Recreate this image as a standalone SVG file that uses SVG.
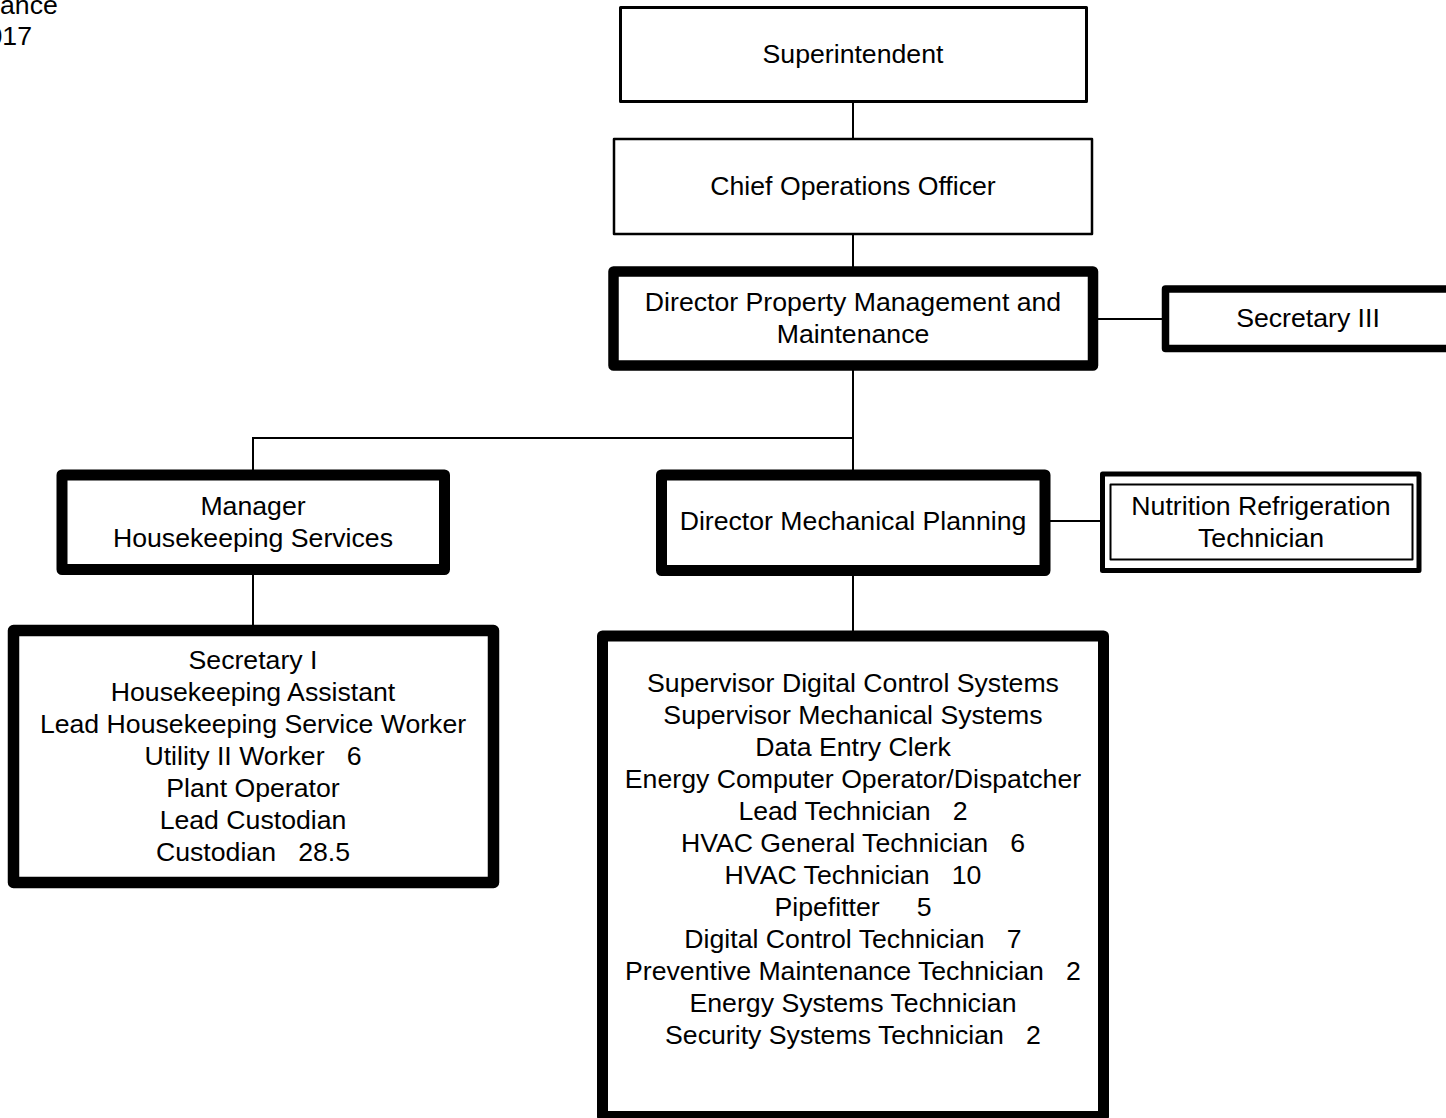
<svg xmlns="http://www.w3.org/2000/svg" width="1446" height="1118" viewBox="0 0 1446 1118">
  <style>
    text { font-family: "Liberation Sans", Arial, sans-serif; font-size: 26.67px; fill: #000; white-space: pre; }
    .c { text-anchor: middle; }
    .box { fill: #fff; stroke: #000; stroke-linejoin: round; }
    .thin { stroke-width: 2.5; }
    .thick { stroke-width: 11; }
    .conn { stroke: #000; stroke-width: 2; fill: none; }
  </style>
  <rect x="0" y="0" width="1446" height="1118" fill="#fff"/>

  <!-- page title, running off the left edge -->
  <g id="title">
    <text x="0" y="14">ance</text>
    <text x="32" y="45" text-anchor="end">017</text>
  </g>

  <!-- reporting lines -->
  <g id="connectors">
    <line class="conn" x1="853" y1="101" x2="853" y2="139"/>
    <line class="conn" x1="853" y1="234" x2="853" y2="267"/>
    <line class="conn" x1="853" y1="370" x2="853" y2="470"/>
    <line class="conn" x1="252" y1="438" x2="854" y2="438"/>
    <line class="conn" x1="253" y1="437" x2="253" y2="470"/>
    <line class="conn" x1="1097" y1="319" x2="1163" y2="319"/>
    <line class="conn" x1="1049" y1="521" x2="1101" y2="521"/>
    <line class="conn" x1="253" y1="574" x2="253" y2="626"/>
    <line class="conn" x1="853" y1="575" x2="853" y2="631"/>
  </g>

  <g id="superintendent">
    <rect class="box" x="620.5" y="7.5" width="466" height="94" stroke-width="3"/>
    <text class="c" x="853" y="63">Superintendent</text>
  </g>

  <g id="chief-operations-officer">
    <rect class="box thin" x="614" y="139" width="478" height="95"/>
    <text class="c" x="853" y="195">Chief Operations Officer</text>
  </g>

  <g id="director-property-management">
    <rect class="box" x="613.5" y="271.5" width="479.5" height="94" stroke-width="10.5"/>
    <text class="c" x="853" y="311">Director Property Management and</text>
    <text class="c" x="853" y="343">Maintenance</text>
  </g>

  <g id="secretary-iii">
    <rect class="box" x="1165.5" y="289" width="300" height="59.5" stroke-width="7.5"/>
    <text class="c" x="1308" y="327">Secretary III</text>
  </g>

  <g id="manager-housekeeping">
    <rect class="box thick" x="62" y="475" width="382.5" height="94.5"/>
    <text class="c" x="253" y="515">Manager</text>
    <text class="c" x="253" y="547">Housekeeping Services</text>
  </g>

  <g id="director-mechanical-planning">
    <rect class="box thick" x="661.5" y="475" width="383.5" height="95.5"/>
    <text class="c" x="853" y="530">Director Mechanical Planning</text>
  </g>

  <g id="nutrition-refrigeration-technician">
    <rect class="box" x="1102.5" y="474" width="316.5" height="96.5" stroke-width="5"/>
    <rect class="box" x="1110.5" y="484.5" width="302" height="75" stroke-width="2"/>
    <text class="c" x="1261" y="515">Nutrition Refrigeration</text>
    <text class="c" x="1261" y="547">Technician</text>
  </g>

  <g id="housekeeping-staff">
    <rect class="box" x="13.5" y="630.5" width="480" height="252" stroke-width="11.5"/>
    <text class="c" x="253" y="669">Secretary I</text>
    <text class="c" x="253" y="701">Housekeeping Assistant</text>
    <text class="c" x="253" y="733">Lead Housekeeping Service Worker</text>
    <text class="c" x="253" y="765">Utility II Worker   6</text>
    <text class="c" x="253" y="797">Plant Operator</text>
    <text class="c" x="253" y="829">Lead Custodian</text>
    <text class="c" x="253" y="861">Custodian   28.5</text>
  </g>

  <g id="mechanical-staff">
    <rect class="box thick" x="602.5" y="636" width="501" height="480.5"/>
    <text class="c" x="853" y="692">Supervisor Digital Control Systems</text>
    <text class="c" x="853" y="724">Supervisor Mechanical Systems</text>
    <text class="c" x="853" y="756">Data Entry Clerk</text>
    <text class="c" x="853" y="788">Energy Computer Operator/Dispatcher</text>
    <text class="c" x="853" y="820">Lead Technician   2</text>
    <text class="c" x="853" y="852">HVAC General Technician   6</text>
    <text class="c" x="853" y="884">HVAC Technician   10</text>
    <text class="c" x="853" y="916">Pipefitter     5</text>
    <text class="c" x="853" y="948">Digital Control Technician   7</text>
    <text class="c" x="853" y="980">Preventive Maintenance Technician   2</text>
    <text class="c" x="853" y="1012">Energy Systems Technician</text>
    <text class="c" x="853" y="1044">Security Systems Technician   2</text>
  </g>
</svg>
